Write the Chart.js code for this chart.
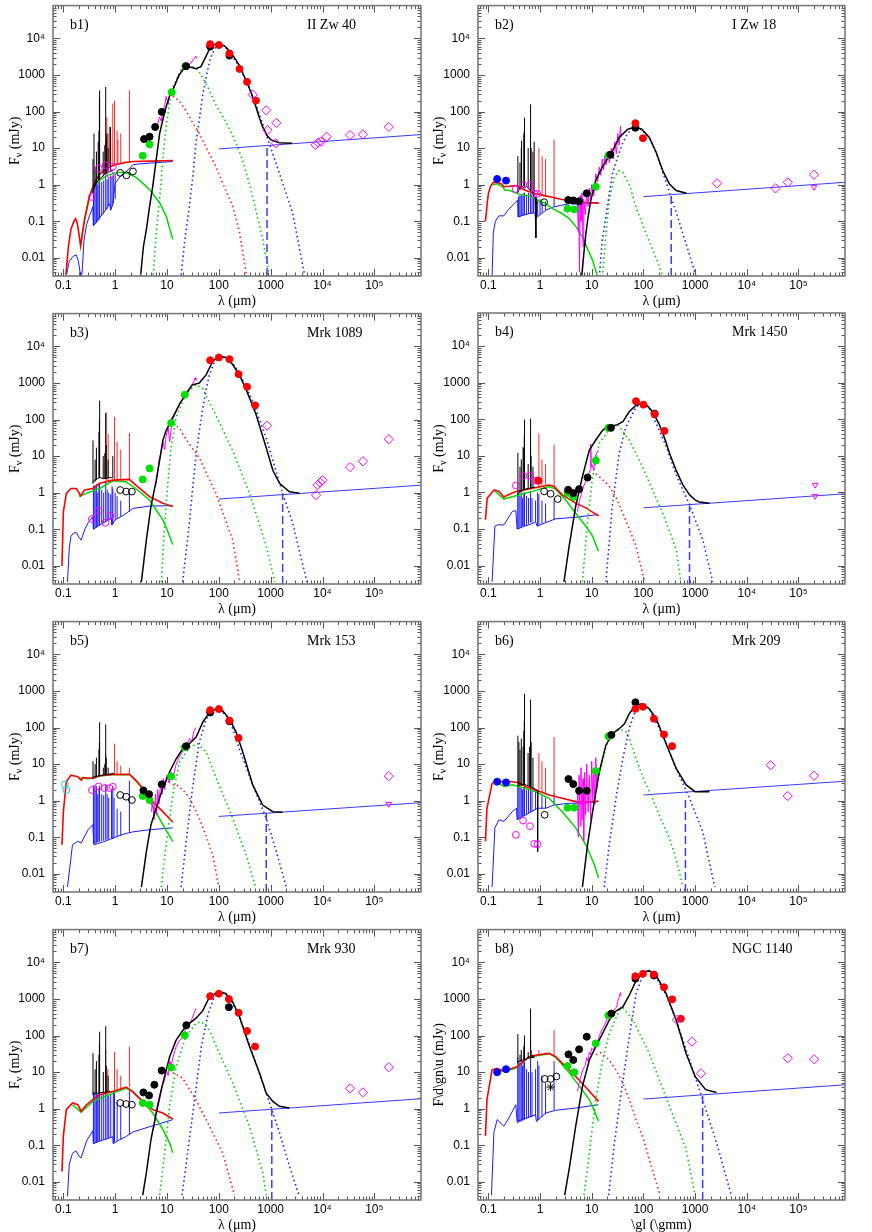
<!DOCTYPE html>
<html><head><meta charset="utf-8">
<script src="https://cdn.jsdelivr.net/npm/chart.js@4.4.1/dist/chart.umd.min.js"></script>
<style>
body{margin:0;background:#fff;width:872px;height:1232px;position:relative;overflow:hidden}
canvas{position:absolute}
</style></head><body>
<canvas id="c1"></canvas><canvas id="c2"></canvas><canvas id="c3"></canvas><canvas id="c4"></canvas>
<canvas id="c5"></canvas><canvas id="c6"></canvas><canvas id="c7"></canvas><canvas id="c8"></canvas>
<script>
// ---------- axis ticks ----------
const xTickValues = [0.1, 1, 10, 100, 1000, 1e4, 1e5];
const xTickLabels = ['0.1', '1', '10', '100', '1000', '10\u2074', '10\u2075'];
const yTickValues = [0.01, 0.1, 1, 10, 100, 1000, 1e4];
const yTickLabels = ['0.01', '0.1', '1', '10', '100', '1000', '10\u2074'];
const panelTags = ['b1)', 'b2)', 'b3)', 'b4)', 'b5)', 'b6)', 'b7)', 'b8)'];
const panelNames = ['II Zw 40', 'I Zw 18', 'Mrk 1089', 'Mrk 1450', 'Mrk 153', 'Mrk 209', 'Mrk 930', 'NGC 1140'];

// ---------- b1 II Zw 40 ----------
const b1_redModel = [[0.112,0.0034],[0.125,0.02],[0.14,0.06],[0.16,0.1],[0.172,0.117],[0.185,0.09],[0.2,0.045],[0.215,0.021],[0.23,0.04],[0.255,0.11],[0.29,0.25],[0.32,0.48],[0.37,0.85],[0.43,1.37],[0.5,1.9],[0.67,2.8],[1,3.5],[1.5,4.0],[2.2,4.3],[5,4.4],[12.9,4.6]];
const b1_redLines = [[0.69,2.9,70],[0.73,3,25],[0.78,3.1,38],[0.82,3.2,20],[0.9,3.3,165],[0.97,3.4,200],[1.09,3.6,30],[1.13,3.6,17],[1.28,3.8,25],[1.88,4.2,380]];
const b1_green = [[0.215,0.021],[0.23,0.04],[0.26,0.12],[0.3,0.35],[0.35,0.7],[0.4,0.95],[0.5,1.3],[0.7,1.8],[1,2.1],[1.3,2.2],[1.8,2.0],[2.5,1.6],[3.4,1.1],[4.6,0.73],[7.2,0.32],[9.6,0.14],[11,0.07],[12.9,0.032]];
const b1_blueCont = [[0.115,0.0034],[0.13,0.008],[0.155,0.011],[0.177,0.012],[0.195,0.008],[0.21,0.004],[0.215,0.002],[0.23,0.004],[0.25,0.03],[0.28,0.08],[0.32,0.14],[0.37,0.25],[0.38,0.075],[0.45,0.1],[0.55,0.15],[0.65,0.2],[0.78,0.3],[0.82,0.2],[0.9,0.3],[1.0,1.1],[1.3,1.8],[1.6,2.2],[2.2,3.5],[3,3.7],[5,3.9],[8,4.1],[13,4.3]];
const b1_blueLines = [[0.38,0.075,0.8],[0.39,0.08,1.0],[0.41,0.085,1.1],[0.434,0.09,1.2],[0.46,0.1,1.0],[0.486,0.11,1.4],[0.5,0.12,1.4],[0.55,0.14,1.2],[0.6,0.16,1.3],[0.656,0.2,1.8],[0.7,0.22,1.4],[0.75,0.26,1.5],[0.82,0.2,1.8],[0.87,0.25,1.6],[0.92,0.3,1.8],[1.0,0.4,2.0]];
const b1_optSpec = [[0.37,0.6],[0.39,0.8],[0.42,1.0],[0.45,1.2],[0.48,1.4],[0.52,1.5],[0.56,1.6],[0.6,1.8],[0.65,2.0],[0.7,2.1],[0.75,2.2],[0.8,2.3],[0.85,2.4],[0.9,2.5]];
const b1_optLines = [[0.373,0.6,5],[0.39,0.8,25],[0.41,0.9,3],[0.434,1.0,8],[0.47,1.3,15],[0.486,1.4,30],[0.496,1.4,250],[0.501,1.4,380],[0.587,1.7,8],[0.63,1.9,12],[0.656,2.0,470],[0.672,2.0,20],[0.69,2.1,25],[0.73,2.2,10],[0.81,2.3,38]];
const b1_irs = [[5.9,30],[6.5,42],[7.2,70],[7.7,55],[8.3,100],[9,140],[9.6,260],[10.5,160],[11.3,300],[12.5,330],[14,500],[15.5,700],[17,900],[18.7,1200],[20,1500],[23,1700],[27,1900],[30,2300],[33,2800],[36,3300],[37,2800]];
const b1_dust = [[3.1,0.0034],[3.5,0.02],[4,0.06],[4.6,0.25],[5.3,0.9],[6.2,5],[7.2,25],[8.3,60],[9.6,134],[11,250],[13,400],[17,1000],[23,1750],[30,1600],[36,1480],[45,1700],[55,3000],[68,5700],[85,7000],[100,7300],[130,6200],[160,4600],[200,3000],[250,1800],[300,1000],[360,570],[450,250],[520,134],[600,70],[700,38],[850,22],[1000,17],[1450,14],[2600,13.5]];
const b1_dotRed = [[12.9,265],[17,200],[23,108],[30,55],[42,25],[60,9],[88,3.1],[130,0.8],[185,0.26],[250,0.05],[340,0.0034]];
const b1_dotGreen = [[5.4,0.0034],[6.2,0.05],[7.2,0.39],[8.3,5],[9.6,38],[11,150],[13,470],[18.7,1400],[27,1800],[35,1600],[42,1200],[60,500],[88,150],[130,60],[185,22],[270,6],[385,1.1],[500,0.25],[700,0.032],[940,0.0034]];
const b1_dotBlue = [[18.7,0.0034],[22,0.03],[27,0.26],[32,2],[36,13.5],[42,60],[48,250],[57,900],[68,2750],[85,5500],[100,6900],[130,6000],[160,4200],[250,1640],[385,470],[600,88],[940,13.5],[1700,1.1],[2650,0.17],[4500,0.0034]];
const b1_radio = [[100,9.5],[8e5,23.5]];
const b1_cut = [850,12.5];
const b1_ptBlack = [[3.6,17.7],[4.6,20.5],[5.9,38],[7.9,98],[23.3,1750],[68,6000],[160,3400]];
const b1_ptRed = [[68,7000],[100,6600],[160,3900],[250,1470],[350,650],[520,200]];
const b1_ptGreen = [[3.4,6.2],[4.6,12.7],[12.3,340],[22.6,1750]];
const b1_ptBlue = [];
const b1_openBlack = [[1.25,2.1],[1.65,1.8],[2.2,2.3]];
const b1_openMag = [[0.355,0.46],[0.48,2.8],[0.65,3.4],[0.8,1.9],[0.9,3.1]];
const b1_openCyan = [];
const b1_diam = [[450,290],[820,108],[1280,49],[870,31],[1250,13.5],[7300,12.2],[8200,14],[9400,15],[1.2e4,20.5],[3.4e4,22.7],[6e4,23.7],[1.9e5,38]];
const b1_limits = [];
const b1_star = [];

// ---------- b2 I Zw 18 ----------
const b2_redModel = [[0.088,0.1],[0.095,0.3],[0.1,0.56],[0.11,0.9],[0.125,1.16],[0.15,1.15],[0.18,1.05],[0.2,0.88],[0.25,0.9],[0.34,0.94],[0.4,0.85],[0.53,0.69],[0.82,0.56],[1.2,0.5],[1.74,0.45],[2.5,0.4],[3.66,0.37],[6.6,0.33],[14,0.31]];
const b2_redLines = [[0.66,0.65,8],[0.95,0.55,10],[1.1,0.5,6],[1.28,0.5,5],[1.87,0.45,17]];
const b2_green = [[0.12,1.0],[0.15,1.05],[0.19,0.85],[0.21,0.7],[0.25,0.7],[0.39,0.55],[0.6,0.5],[0.82,0.4],[1.29,0.3],[1.74,0.22],[2.5,0.17],[3.66,0.12],[5,0.07],[6.6,0.037],[8.5,0.016],[10.4,0.0085],[13,0.003]];
const b2_blueCont = [[0.118,0.003],[0.125,0.05],[0.137,0.1],[0.16,0.14],[0.2,0.14],[0.24,0.2],[0.3,0.28],[0.37,0.38],[0.375,0.13],[0.5,0.15],[0.6,0.16],[0.8,0.17],[0.82,0.12],[1,0.15],[1.3,0.2],[1.74,0.24],[2.5,0.27],[3.66,0.3],[6.6,0.29],[13,0.33]];
const b2_blueLines = [[0.38,0.13,0.45],[0.39,0.13,0.5],[0.41,0.13,0.5],[0.434,0.14,0.55],[0.45,0.14,0.5],[0.486,0.14,0.6],[0.5,0.15,0.6],[0.55,0.15,0.5],[0.6,0.16,0.6],[0.656,0.16,0.7],[0.7,0.16,0.5],[0.75,0.17,0.5],[0.85,0.12,0.45],[0.9,0.14,0.4],[1.0,0.15,0.4],[1.1,0.17,0.35],[1.28,0.2,0.35],[1.87,0.25,0.45]];
const b2_optSpec = [[0.37,0.6],[0.4,0.8],[0.45,0.9],[0.5,0.8],[0.55,0.9],[0.6,0.8],[0.65,0.7],[0.7,0.6],[0.75,0.5],[0.8,0.45],[0.83,0.035],[0.84,0.4],[0.9,0.3]];
const b2_optLines = [[0.373,0.6,6],[0.41,0.7,4],[0.434,0.8,10],[0.44,0.8,16],[0.486,0.9,25],[0.496,0.9,30],[0.501,0.9,68],[0.59,0.8,10],[0.656,0.7,158],[0.672,0.7,10],[0.73,0.6,8],[0.77,0.5,15]];
const b2_irs = [[5.3,0.3],[5.5,0.05],[5.6,0.4],[5.8,0.004],[6.0,0.5],[6.2,0.1],[6.5,0.6],[6.8,0.02],[7.0,0.4],[7.5,0.15],[8,0.6],[8.5,0.25],[9,0.8],[9.5,0.4],[10,1],[11,0.5],[12,2],[13,1.2],[14,3],[15,1.8],[16,5],[17,2.5],[18,6],[19,3.5],[20,8],[22,4],[24,10],[26,5],[28,15],[30,7],[32,25],[34,12],[36,40],[37,20]];
const b2_dust = [[6.4,0.003],[7,0.012],[7.7,0.045],[8.5,0.13],[9.6,0.37],[12,1.3],[16,3],[23.5,6.9],[34,19.5],[50,33],[70,38],[93,33],[130,19.5],[177,7.6],[237,2.4],[320,1.04],[430,0.69],[680,0.58]];
const b2_dotRed = [];
const b2_dotGreen = [[16,0.003],[19,0.05],[22,0.4],[27,1.5],[33,2.4],[40,2.2],[55,0.9],[72,0.24],[100,0.07],[130,0.028],[180,0.009],[240,0.003]];
const b2_dotBlue = [[14,0.003],[16,0.03],[18.8,0.13],[22,0.6],[25,1.9],[31.6,5.6],[40,14],[50,26],[70,37],[93,32],[130,19],[177,7.4],[237,2.2],[320,0.6],[430,0.18],[580,0.045],[780,0.012],[1050,0.003]];
const b2_radio = [[100,0.47],[8e5,1.16]];
const b2_cut = [345,0.56];
const b2_ptBlack = [[3.5,0.38],[4.4,0.37],[5.7,0.35],[8,0.58],[23,6.6],[70,36]];
const b2_ptRed = [[70,48],[98,18.7]];
const b2_ptGreen = [[3.4,0.22],[4.6,0.21],[12,0.88],[21,6.3]];
const b2_ptBlue = [[0.148,1.43],[0.22,1.29]];
const b2_openBlack = [[1.2,0.33]];
const b2_openMag = [[0.337,0.76],[0.47,0.98],[0.64,0.98],[0.77,0.58],[0.89,0.56]];
const b2_openCyan = [];
const b2_diam = [[2650,1.09],[3.6e4,0.79],[6.2e4,1.16],[2e5,1.87]];
const b2_limits = [[2e5,0.85]];
const b2_star = [];

// ---------- b3 Mrk 1089 ----------
const b3_redModel = [[0.094,0.0098],[0.1,0.3],[0.114,0.96],[0.14,1.3],[0.177,1.3],[0.2,1.0],[0.215,0.81],[0.256,1.18],[0.37,1.3],[0.5,1.8],[0.9,2.2],[1.88,2.3],[2.5,1.6],[4.6,0.78],[8.3,0.51],[12.9,0.42]];
const b3_redLines = [[0.67,2,158],[0.73,2,40],[0.97,2.2,120],[1.09,2.2,25],[1.28,2.2,15],[1.88,2.3,43]];
const b3_green = [[0.2,0.8],[0.23,0.85],[0.3,1.0],[0.5,1.3],[0.9,2.1],[1.6,2.0],[2.5,1.3],[4.6,0.63],[8.3,0.18],[10,0.1],[12.9,0.038]];
const b3_blueCont = [[0.12,0.0036],[0.13,0.03],[0.14,0.064],[0.16,0.08],[0.18,0.08],[0.2,0.06],[0.22,0.05],[0.26,0.1],[0.3,0.15],[0.37,0.22],[0.38,0.1],[0.5,0.13],[0.7,0.17],[0.84,0.2],[0.86,0.13],[1,0.18],[1.5,0.25],[2.2,0.37],[4.6,0.43],[12.9,0.44]];
const b3_blueLines = [[0.38,0.1,1.5],[0.39,0.1,1.6],[0.41,0.11,1.5],[0.434,0.11,1.7],[0.46,0.12,1.0],[0.486,0.12,1.8],[0.5,0.13,1.8],[0.55,0.14,1.2],[0.6,0.15,1.0],[0.656,0.16,2],[0.7,0.17,1.2],[0.75,0.18,1.0],[0.82,0.2,0.9],[0.87,0.13,1.5],[0.9,0.14,1.3],[1.0,0.18,1.0],[1.09,0.2,0.8],[1.28,0.22,0.6],[1.88,0.3,1.0]];
const b3_optSpec = [[0.37,1.8],[0.4,2.2],[0.45,2.4],[0.5,2.6],[0.55,2.5],[0.6,2.4],[0.7,2.5],[0.8,2.6],[0.9,2.5]];
const b3_optLines = [[0.373,1.8,27],[0.41,2,8],[0.434,2.2,17],[0.486,2.5,45],[0.496,2.5,100],[0.501,2.5,330],[0.587,2.4,10],[0.63,2.4,12],[0.656,2.4,150],[0.672,2.4,20],[0.73,2.5,8],[0.9,2.5,10]];
const b3_irs = [[6,1.5],[6.5,3],[7,8],[7.7,12],[8.3,25],[9,15],[9.6,35],[10.5,60],[11.3,25],[12.5,90],[14,130],[16,200],[18,300],[20,350],[22,450],[25,550],[28,800],[32,1000],[35,1400],[36,1200]];
const b3_dust = [[3.2,0.0036],[4,0.052],[4.9,0.42],[6.2,2.2],[7.2,7.7],[8.3,27],[9.6,50],[12.9,115],[17.4,265],[23,500],[31,890],[42,1000],[57,1700],[76,3900],[100,5400],[137,5000],[185,3200],[250,1650],[335,670],[520,140],[820,17],[1100,4.1],[1480,1.8],[2300,1.06],[3600,0.96]];
const b3_dotRed = [[13,75],[17,60],[23,30],[30,17],[42,9],[60,3],[88,0.96],[130,0.2],[185,0.05],[250,0.004]];
const b3_dotGreen = [[7.8,0.0036],[8.5,0.04],[9.6,0.42],[11,5],[12,17.7],[15,115],[23,500],[36,900],[49,700],[88,130],[185,14],[390,0.96],[820,0.035],[1200,0.0036]];
const b3_dotBlue = [[20,0.0036],[23,0.02],[27,0.15],[31,1.2],[36,9.5],[42,50],[49,200],[57,700],[66,1700],[80,3500],[100,5400],[160,4600],[250,1900],[450,320],[820,31],[1700,0.96],[2650,0.15],[5000,0.0036]];
const b3_radio = [[100,0.67],[8e5,1.6]];
const b3_cut = [1700,0.96];
const b3_ptBlack = [];
const b3_ptRed = [[68,4200],[100,5000],[160,4500],[240,1750],[350,790],[500,245]];
const b3_ptGreen = [[3.4,2.3],[4.6,4.6],[12,80],[22,480]];
const b3_ptBlue = [];
const b3_openBlack = [[1.25,1.18],[1.63,1.07],[2.1,1.07]];
const b3_openMag = [[0.355,0.19],[0.48,0.32],[0.65,0.15],[0.81,0.23]];
const b3_openCyan = [];
const b3_diam = [[850,68],[7500,0.86],[8000,1.6],[9000,1.9],[1e4,2.2],[3.4e4,5.0],[6e4,7.2],[1.9e5,29]];
const b3_limits = [];
const b3_star = [];

// ---------- b4 Mrk 1450 ----------
const b4_redModel = [[0.088,0.18],[0.095,0.7],[0.13,1.18],[0.16,1.07],[0.2,0.75],[0.29,0.96],[0.36,1.07],[0.71,1.3],[1.5,1.6],[1.87,1.45],[2.7,0.86],[4.9,0.51],[7.7,0.38],[13.5,0.23]];
const b4_redLines = [[0.656,1.2,20],[0.95,1.3,41],[1.09,1.4,8],[1.28,1.5,6],[1.87,1.45,20]];
const b4_green = [[0.13,1.13],[0.2,0.66],[0.34,0.81],[0.71,1.07],[1.5,1.45],[2,1.23],[3.1,0.63],[4.9,0.27],[7.7,0.12],[10.4,0.064],[13.5,0.025]];
const b4_blueCont = [[0.118,0.0036],[0.134,0.12],[0.15,0.13],[0.2,0.13],[0.29,0.3],[0.34,0.32],[0.36,0.1],[0.5,0.12],[0.7,0.14],[0.82,0.16],[0.88,0.12],[1.29,0.15],[2,0.19],[4.9,0.21],[13.5,0.25]];
const b4_blueLines = [[0.37,0.1,0.9],[0.39,0.1,1.0],[0.41,0.11,0.8],[0.434,0.11,1.0],[0.46,0.12,0.7],[0.486,0.12,1.0],[0.5,0.12,1.0],[0.55,0.13,0.8],[0.6,0.14,0.7],[0.656,0.15,1.1],[0.7,0.15,0.7],[0.82,0.16,0.6],[0.9,0.12,1.0],[0.95,0.13,0.9],[1.09,0.14,0.6],[1.28,0.15,0.5],[1.87,0.18,0.7]];
const b4_optSpec = [[0.36,0.85],[0.4,1.0],[0.45,1.1],[0.5,1.2],[0.6,1.3],[0.7,1.35],[0.8,1.4]];
const b4_optLines = [[0.373,0.9,12],[0.41,1,5],[0.434,1.1,8],[0.47,1.15,17],[0.486,1.2,17],[0.496,1.2,35],[0.501,1.2,98],[0.59,1.3,6],[0.656,1.3,103],[0.672,1.3,10],[0.73,1.3,5]];
const b4_irs = [[5.3,0.3],[5.8,0.6],[6.4,1.0],[7,1.5],[7.7,2],[8.5,3],[9.3,4],[9.6,21],[9.8,5],[10,6],[11,4],[11.5,9],[12.5,12],[13.5,14]];
const b4_dust = [[2.9,0.0036],[3.66,0.034],[4.9,0.42],[6.6,2.7],[9,14.4],[12,27],[16.2,50],[21.8,65],[29.4,68],[40,85],[53,160],[72,240],[90,265],[120,230],[150,160],[200,75],[265,27],[320,11.7],[430,4],[580,1.6],[780,0.86],[1000,0.63],[1200,0.55],[1900,0.51]];
const b4_dotRed = [[12,3.2],[15,2.5],[22,1.45],[30,0.7],[40,0.27],[55,0.09],[72,0.034],[105,0.0036]];
const b4_dotGreen = [[6.6,0.0036],[8.3,0.15],[10.4,2.7],[14,22],[22,55],[33,68],[53,27],[96,5],[237,0.27],[430,0.028],[530,0.0036]];
const b4_dotBlue = [[18.8,0.0036],[25,0.42],[34,11.7],[46,62],[72,215],[90,255],[130,195],[265,21],[430,3],[780,0.46],[1400,0.052],[2200,0.0036]];
const b4_radio = [[100,0.38],[8e5,0.92]];
const b4_cut = [780,0.44];
const b4_ptBlack = [[3.5,1.18],[4.4,0.96],[5.7,1.23],[8.3,2.55],[23.5,58],[165,142]];
const b4_ptRed = [[0.93,2.1],[72,310],[100,250],[165,137],[255,48]];
const b4_ptGreen = [[3.4,0.96],[4.4,0.75],[12,7.4],[21,58]];
const b4_ptBlue = [];
const b4_openBlack = [[1.2,1.07],[1.6,0.92],[2.2,0.66]];
const b4_openMag = [[0.34,1.55],[0.47,2.8],[0.64,2.9],[0.77,2.1],[0.89,2.1]];
const b4_openCyan = [];
const b4_diam = [];
const b4_limits = [[2.1e5,1.6],[2.1e5,0.8]];
const b4_star = [];

// ---------- b5 Mrk 153 ----------
const b5_redModel = [[0.094,0.062],[0.1,0.5],[0.114,3.3],[0.14,5],[0.19,4.5],[0.22,3.6],[0.24,4.3],[0.37,4.05],[0.5,4.8],[0.9,5.2],[1.89,5.3],[2.5,3.6],[3.4,2.2],[5.3,0.94],[8.3,0.5],[12.9,0.26]];
const b5_redLines = [[0.656,5,20],[0.97,5.2,36],[1.09,5.2,12],[1.28,5.2,9],[1.88,5.3,8]];
const b5_green = [[0.2,4.2],[0.3,4.0],[0.5,4.7],[0.9,5.1],[1.9,5.2],[2.5,3.5],[3.4,2.1],[5.3,0.69],[8.3,0.22],[10,0.14],[12.9,0.077]];
const b5_blueCont = [[0.12,0.0043],[0.15,0.062],[0.19,0.077],[0.22,0.069],[0.3,0.16],[0.37,0.22],[0.39,0.062],[0.6,0.075],[0.9,0.094],[1.4,0.12],[2.2,0.14],[4.6,0.16],[12.9,0.18]];
const b5_blueLines = [[0.38,0.065,2.5],[0.39,0.065,2.7],[0.41,0.067,2],[0.434,0.07,2.5],[0.46,0.072,1.5],[0.486,0.075,2.2],[0.5,0.076,2.6],[0.55,0.078,1.5],[0.6,0.08,1.4],[0.656,0.082,2.8],[0.7,0.085,1.5],[0.75,0.088,1.2],[0.85,0.09,2.0],[0.9,0.09,2.5],[0.95,0.092,1.2],[1.09,0.1,0.6],[1.28,0.11,0.5],[1.88,0.13,3.5]];
const b5_optSpec = [[0.37,4.2],[0.4,4.5],[0.5,4.8],[0.6,5],[0.7,5.2],[0.8,5.4],[0.95,5.6]];
const b5_optLines = [[0.373,4.2,12],[0.41,4.4,10],[0.434,4.5,15],[0.486,4.8,25],[0.496,4.8,40],[0.501,4.8,140],[0.59,5,8],[0.63,5,10],[0.656,5.1,122],[0.672,5.1,15],[0.73,5.2,8]];
const b5_irs = [[5,0.5],[5.3,1],[5.6,0.3],[6,1.5],[6.3,0.4],[6.6,2],[7,0.8],[7.5,3],[8,1.5],[8.5,4],[9,2],[10,5],[11,3],[12,6],[13,4],[15,10],[17,15],[19,20],[21,25],[24,30],[27,50],[30,40],[33,80],[36,100]];
const b5_dust = [[3.2,0.0043],[4,0.041],[4.9,0.22],[6.2,0.62],[8.3,2.2],[11.2,6.1],[15,14],[20.2,26.5],[27,36],[36.4,55],[49,140],[66,260],[88,320],[118,290],[160,170],[215,75],[290,21],[450,2.7],[700,0.76],[1100,0.5],[1700,0.48]];
const b5_dotRed = [[12.9,2.7],[15,2.8],[20,2],[27,1.2],[42,0.33],[55,0.12],[76,0.033],[100,0.0043]];
const b5_dotGreen = [[7.7,0.0043],[9.6,0.062],[12.9,1.4],[17.4,11.5],[27,29],[39,36],[57,21.5],[100,2.7],[185,0.33],[335,0.033],[510,0.0043]];
const b5_dotBlue = [[18.7,0.0043],[23,0.062],[31,2.2],[42,40],[57,170],[76,310],[100,330],[160,170],[250,25],[450,2.7],[820,0.33],[1280,0.041],[2000,0.0043]];
const b5_radio = [[100,0.37],[8e5,0.88]];
const b5_cut = [820,0.45];
const b5_ptBlack = [[3.5,1.9],[4.5,1.5],[7.9,2.8],[23.4,31],[68,260],[160,150]];
const b5_ptRed = [[68,300],[100,320],[160,155],[240,52]];
const b5_ptGreen = [[3.4,1.34],[4.6,1.04],[12,4.6],[22,29]];
const b5_ptBlue = [];
const b5_openBlack = [[1.25,1.43],[1.63,1.28],[2.1,1.04]];
const b5_openMag = [[0.355,1.95],[0.48,2.45],[0.62,2.2],[0.78,2.2],[0.9,2.4]];
const b5_openCyan = [[0.107,2.8],[0.114,1.95]];
const b5_diam = [[1.9e5,4.7]];
const b5_limits = [[1.9e5,0.8]];
const b5_star = [];

// ---------- b6 Mrk 209 ----------
const b6_redModel = [[0.088,0.077],[0.094,0.62],[0.118,2.96],[0.148,3.6],[0.186,3.3],[0.29,3.3],[0.39,3.1],[0.53,2.4],[0.82,1.95],[1.5,1.43],[2.7,1.16],[4.9,0.94],[7.7,0.9],[13.5,0.98]];
const b6_redLines = [[0.656,2.3,50],[0.95,1.9,20],[1.09,1.7,12],[1.28,1.5,8],[1.87,1.3,55]];
const b6_green = [[0.148,3.3],[0.2,2.4],[0.29,2.7],[0.5,2.2],[0.82,1.75],[1.5,1.16],[2.7,0.5],[4.9,0.18],[7.7,0.062],[11.2,0.018],[13.5,0.0078]];
const b6_blueCont = [[0.118,0.0043],[0.134,0.18],[0.16,0.3],[0.2,0.27],[0.29,0.5],[0.35,0.62],[0.36,0.3],[0.6,0.45],[0.89,0.62],[1.29,0.62],[1.87,0.76],[3.66,0.85],[6.6,0.85],[13.5,0.94]];
const b6_blueLines = [[0.37,0.3,2.5],[0.39,0.32,2.4],[0.41,0.33,2.3],[0.434,0.35,2.4],[0.46,0.37,2],[0.486,0.38,2.4],[0.5,0.4,2.5],[0.55,0.42,2],[0.6,0.45,2],[0.656,0.48,2.5],[0.7,0.5,1.8],[0.82,0.55,2],[0.9,0.6,1.8],[1.09,0.62,1.5],[1.28,0.62,1.2],[1.87,0.76,1.6]];
const b6_optSpec = [[0.36,2.5],[0.4,2.6],[0.45,2.7],[0.5,2.8],[0.6,2.5],[0.7,2.3],[0.8,2.1],[0.9,1.9]];
const b6_optLines = [[0.373,2.5,60],[0.39,2.6,40],[0.41,2.6,25],[0.434,2.7,50],[0.47,2.7,30],[0.486,2.7,80],[0.496,2.7,150],[0.501,2.7,830],[0.587,2.5,20],[0.63,2.4,30],[0.656,2.3,580],[0.672,2.3,40],[0.73,2.2,15],[0.9,1.9,0.04]];
const b6_irs = [[5.3,2],[5.5,0.1],[5.7,5],[6,0.2],[6.2,8],[6.5,0.3],[6.8,4],[7,0.08],[7.3,6],[7.6,0.4],[8,10],[8.5,0.5],[9,5],[9.5,0.3],[10,12],[10.5,1],[11,6],[11.5,0.8],[12,15],[12.5,2],[13,7]];
const b6_dust = [[6.6,0.0043],[8.3,0.062],[10.4,0.5],[14,6.1],[18.8,33],[25,68],[34,93],[43,127],[53,237],[70,400],[93,445],[130,325],[177,175],[275,36],[430,7.6],[670,2.7],[1000,1.76],[1900,1.76]];
const b6_dotRed = [];
const b6_dotGreen = [[14,5],[18.8,30],[25,65],[34,90],[45,80],[55,45],[72,14],[100,4],[150,1.16],[220,0.3],[320,0.094],[450,0.02],[580,0.0043]];
const b6_dotBlue = [[17.5,0.0043],[21.8,0.062],[29.4,1.16],[40,14],[53,93],[72,325],[93,420],[130,325],[237,61],[430,7.6],[780,1.16],[1400,0.144],[2400,0.0043]];
const b6_radio = [[100,1.43],[8e5,3.4]];
const b6_cut = [650,1.37];
const b6_ptBlack = [[3.55,3.9],[4.4,2.84],[5.7,1.87],[8,1.87],[24,63],[70,490]];
const b6_ptRed = [[70,325],[98,370],[160,175],[250,65],[360,31]];
const b6_ptGreen = [[3.4,0.64],[4.6,0.64],[12,6.5],[21,58]];
const b6_ptBlue = [[0.148,3.3],[0.22,3.15]];
const b6_openBlack = [[1.23,0.41]];
const b6_openMag = [[0.34,0.116],[0.47,0.285],[0.64,0.2],[0.77,0.066],[0.89,0.064]];
const b6_openCyan = [];
const b6_diam = [[2.9e4,9.3],[6.2e4,1.34],[2e5,4.8]];
const b6_limits = [];
const b6_star = [];

// ---------- b7 Mrk 930 ----------
const b7_redModel = [[0.094,0.019],[0.1,0.18],[0.114,0.94],[0.15,1.43],[0.19,1.28],[0.22,0.85],[0.28,1.28],[0.37,1.76],[0.5,2.4],[0.9,2.96],[1.63,3.9],[2.2,2.84],[3.4,1.58],[5.3,0.94],[8.3,0.76],[12.9,0.52]];
const b7_redLines = [[0.656,2.6,40],[0.72,2.8,12],[0.97,3,36],[1.09,3.1,12],[1.28,3.3,8],[1.88,3.9,50]];
const b7_green = [[0.15,1.28],[0.22,0.8],[0.37,1.58],[0.9,2.66],[1.63,3.6],[2.2,2.96],[3.4,1.58],[5.3,0.76],[8.3,0.27],[11.2,0.116],[12.9,0.062]];
const b7_blueCont = [[0.12,0.004],[0.13,0.03],[0.15,0.06],[0.175,0.07],[0.2,0.05],[0.22,0.045],[0.28,0.13],[0.37,0.25],[0.38,0.11],[0.5,0.13],[0.7,0.15],[0.9,0.17],[0.92,0.11],[1.2,0.14],[1.6,0.17],[2.2,0.23],[4.6,0.32],[12.9,0.5]];
const b7_blueLines = [[0.38,0.11,2.8],[0.39,0.11,2.9],[0.41,0.115,2.7],[0.434,0.12,2.8],[0.46,0.12,2.5],[0.486,0.125,2.9],[0.5,0.13,2.9],[0.55,0.135,2.5],[0.6,0.14,2.7],[0.656,0.145,3],[0.7,0.15,2.6],[0.75,0.155,2.3],[0.82,0.16,2.5],[0.92,0.11,3.0],[0.97,0.12,2.8],[1.09,0.13,1.5],[1.28,0.14,1.2],[1.88,0.2,3.2]];
const b7_optSpec = [[0.37,2.4],[0.4,2.6],[0.5,2.7],[0.6,2.8],[0.7,2.9],[0.8,3.0]];
const b7_optLines = [[0.373,2.4,33],[0.41,2.5,12],[0.434,2.6,20],[0.486,2.7,30],[0.496,2.7,60],[0.501,2.7,127],[0.59,2.8,10],[0.656,2.8,180],[0.672,2.8,15],[0.73,2.9,8]];
const b7_irs = [[5.6,0.3],[6,0.6],[6.5,1.2],[7,2],[7.5,3],[8,4],[8.5,5],[9,6],[9.6,12],[10.5,8],[11.3,20],[12,15],[13,25],[15,50],[17,70],[20,90],[23,150],[27,200],[30,280],[33,400],[36,550]];
const b7_dust = [[3.4,0.0043],[4,0.018],[4.9,0.143],[6.2,0.76],[8.3,5],[11.2,26],[15,75],[20.2,140],[27,215],[36.4,300],[49,480],[66,1140],[100,1620],[137,1400],[185,830],[250,325],[390,50],[610,9.3],[820,2.66],[1100,1.58],[1480,1.16],[2300,1.04]];
const b7_dotRed = [[12.9,9.7],[20,6.8],[36,1.76],[66,0.33],[118,0.062],[200,0.0043]];
const b7_dotGreen = [[7.2,0.0043],[9,0.062],[11.2,1.16],[15,14],[23,93],[36,215],[46,240],[66,140],[103,32],[185,5],[390,0.33],[700,0.018],[820,0.0043]];
const b7_dotBlue = [[19.5,0.0043],[25,0.062],[34,1.76],[46,50],[62,400],[82,1140],[103,1600],[160,1140],[250,325],[450,32],[820,2.66],[1480,0.22],[2300,0.027],[3500,0.0043]];
const b7_radio = [[100,0.76],[8e5,1.87]];
const b7_cut = [1050,1.0];
const b7_ptBlack = [[3.5,2.78],[4.5,2.3],[5.7,4.5],[7.9,11],[23.6,192],[156,600]];
const b7_ptRed = [[68,1200],[100,1400],[156,1000],[240,420],[350,133],[500,50]];
const b7_ptGreen = [[3.4,1.43],[4.6,1.28],[12,13.3],[22,102]];
const b7_ptBlue = [];
const b7_openBlack = [[1.25,1.43],[1.63,1.34],[2.1,1.28]];
const b7_openMag = [];
const b7_openCyan = [];
const b7_diam = [[3.4e4,3.6],[6e4,2.8],[1.9e5,13.6]];
const b7_limits = [];
const b7_star = [];

// ---------- b8 NGC 1140 ----------
const b8_redModel = [[0.088,0.18],[0.094,1.76],[0.118,11.5],[0.148,12.7],[0.186,11],[0.29,12.7],[0.36,14],[0.61,26.5],[0.82,29],[1.5,32.5],[2,26.5],[2.7,17.5],[3.66,11.5],[5.7,6.1],[9,3],[13.5,1.58]];
const b8_redLines = [[0.656,26,60],[0.95,30,40],[1.28,32,35],[1.87,28,140]];
const b8_green = [[0.148,11.5],[0.2,10.5],[0.29,12],[0.36,13.5],[0.61,26],[1.5,32],[2,25.5],[3.66,9.7],[5.7,4.2],[9,1.76],[11,0.94],[13.5,0.45]];
const b8_blueCont = [[0.115,0.0043],[0.128,0.22],[0.148,0.5],[0.2,0.33],[0.25,0.56],[0.34,1.28],[0.36,0.45],[0.82,0.68],[0.85,0.45],[1.29,0.76],[2,0.9],[4.9,1.04],[13.5,1.28]];
const b8_blueLines = [[0.37,0.4,25],[0.39,0.42,20],[0.41,0.43,18],[0.434,0.45,22],[0.46,0.47,15],[0.486,0.48,25],[0.5,0.5,22],[0.55,0.52,12],[0.6,0.55,10],[0.656,0.58,25],[0.7,0.6,10],[0.82,0.65,12],[0.9,0.45,20],[0.95,0.5,15],[1.09,0.6,8],[1.28,0.7,5],[1.87,0.9,20]];
const b8_optSpec = [[0.36,18],[0.4,20],[0.5,22],[0.6,24],[0.7,25],[0.8,26]];
const b8_optLines = [[0.373,18,110],[0.41,19,30],[0.434,20,40],[0.486,22,50],[0.496,22,60],[0.501,22,100],[0.59,24,35],[0.656,25,550],[0.672,25,40],[0.73,25,30]];
const b8_irs = [[5.3,3],[5.7,5],[6.2,8],[6.8,12],[7.5,15],[8,25],[8.5,20],[9,35],[9.5,30],[10,45],[11,40],[12,70],[13,60],[14,100],[16,150],[18,200],[20,300],[23,400],[27,500],[30,600],[33,1000],[36,1500],[37,1200]];
const b8_dust = [[3,0.0043],[3.66,0.022],[4.9,0.33],[6.6,4],[9,21.5],[12,50],[16.2,114],[21.8,265],[29.4,470],[40,610],[53,1250],[72,3200],[100,5400],[130,6000],[177,4400],[275,1400],[430,265],[670,32.5],[1000,7.6],[1600,3.3],[2600,2.78]];
const b8_dotRed = [[12,30],[15,34],[21.8,21.5],[30,11],[40,5],[55,1.6],[72,0.5],[100,0.15],[130,0.041],[210,0.0043]];
const b8_dotGreen = [[7.1,0.0043],[9,0.062],[12,1.76],[16.2,21.5],[21.8,114],[34,490],[40,580],[63,265],[130,32.5],[320,1.16],[670,0.077],[1000,0.0043]];
const b8_dotBlue = [[21.3,0.0043],[27,0.094],[37,2.66],[50,50],[72,1400],[100,4900],[130,5800],[177,3900],[275,1300],[430,265],[780,21.5],[1400,1.76],[2600,0.116],[5000,0.0043]];
const b8_radio = [[100,1.83],[8e5,4.5]];
const b8_cut = [1400,2.66];
const b8_ptBlack = [[3.55,30.6],[4.4,21.5],[5.7,42],[8,93],[24,400],[70,3600],[160,4400]];
const b8_ptRed = [[70,4200],[98,4900],[160,4700],[250,2100],[360,980],[530,290]];
const b8_ptGreen = [[3.4,14.7],[4.6,9.9],[12,61],[21,360]];
const b8_ptBlue = [[0.148,9.9],[0.22,12]];
const b8_openBlack = [[1.23,6.5],[1.6,6.5],[2.07,7.6]];
const b8_openMag = [];
const b8_openCyan = [];
const b8_diam = [[445,270],[870,68],[1300,9.3],[6.2e4,24],[2e5,22.5]];
const b8_limits = [];
const b8_star = [[1.6,3.9]];

// ---------- build ----------
const panelData = [
 {redModel:b1_redModel,redLines:b1_redLines,green:b1_green,blueCont:b1_blueCont,blueLines:b1_blueLines,optSpec:b1_optSpec,optLines:b1_optLines,irs:b1_irs,dust:b1_dust,dotRed:b1_dotRed,dotGreen:b1_dotGreen,dotBlue:b1_dotBlue,radio:b1_radio,cut:b1_cut,ptBlack:b1_ptBlack,ptRed:b1_ptRed,ptGreen:b1_ptGreen,ptBlue:b1_ptBlue,openBlack:b1_openBlack,openMag:b1_openMag,openCyan:b1_openCyan,diam:b1_diam,limits:b1_limits,star:b1_star},
 {redModel:b2_redModel,redLines:b2_redLines,green:b2_green,blueCont:b2_blueCont,blueLines:b2_blueLines,optSpec:b2_optSpec,optLines:b2_optLines,irs:b2_irs,dust:b2_dust,dotRed:b2_dotRed,dotGreen:b2_dotGreen,dotBlue:b2_dotBlue,radio:b2_radio,cut:b2_cut,ptBlack:b2_ptBlack,ptRed:b2_ptRed,ptGreen:b2_ptGreen,ptBlue:b2_ptBlue,openBlack:b2_openBlack,openMag:b2_openMag,openCyan:b2_openCyan,diam:b2_diam,limits:b2_limits,star:b2_star},
 {redModel:b3_redModel,redLines:b3_redLines,green:b3_green,blueCont:b3_blueCont,blueLines:b3_blueLines,optSpec:b3_optSpec,optLines:b3_optLines,irs:b3_irs,dust:b3_dust,dotRed:b3_dotRed,dotGreen:b3_dotGreen,dotBlue:b3_dotBlue,radio:b3_radio,cut:b3_cut,ptBlack:b3_ptBlack,ptRed:b3_ptRed,ptGreen:b3_ptGreen,ptBlue:b3_ptBlue,openBlack:b3_openBlack,openMag:b3_openMag,openCyan:b3_openCyan,diam:b3_diam,limits:b3_limits,star:b3_star},
 {redModel:b4_redModel,redLines:b4_redLines,green:b4_green,blueCont:b4_blueCont,blueLines:b4_blueLines,optSpec:b4_optSpec,optLines:b4_optLines,irs:b4_irs,dust:b4_dust,dotRed:b4_dotRed,dotGreen:b4_dotGreen,dotBlue:b4_dotBlue,radio:b4_radio,cut:b4_cut,ptBlack:b4_ptBlack,ptRed:b4_ptRed,ptGreen:b4_ptGreen,ptBlue:b4_ptBlue,openBlack:b4_openBlack,openMag:b4_openMag,openCyan:b4_openCyan,diam:b4_diam,limits:b4_limits,star:b4_star},
 {redModel:b5_redModel,redLines:b5_redLines,green:b5_green,blueCont:b5_blueCont,blueLines:b5_blueLines,optSpec:b5_optSpec,optLines:b5_optLines,irs:b5_irs,dust:b5_dust,dotRed:b5_dotRed,dotGreen:b5_dotGreen,dotBlue:b5_dotBlue,radio:b5_radio,cut:b5_cut,ptBlack:b5_ptBlack,ptRed:b5_ptRed,ptGreen:b5_ptGreen,ptBlue:b5_ptBlue,openBlack:b5_openBlack,openMag:b5_openMag,openCyan:b5_openCyan,diam:b5_diam,limits:b5_limits,star:b5_star},
 {redModel:b6_redModel,redLines:b6_redLines,green:b6_green,blueCont:b6_blueCont,blueLines:b6_blueLines,optSpec:b6_optSpec,optLines:b6_optLines,irs:b6_irs,dust:b6_dust,dotRed:b6_dotRed,dotGreen:b6_dotGreen,dotBlue:b6_dotBlue,radio:b6_radio,cut:b6_cut,ptBlack:b6_ptBlack,ptRed:b6_ptRed,ptGreen:b6_ptGreen,ptBlue:b6_ptBlue,openBlack:b6_openBlack,openMag:b6_openMag,openCyan:b6_openCyan,diam:b6_diam,limits:b6_limits,star:b6_star},
 {redModel:b7_redModel,redLines:b7_redLines,green:b7_green,blueCont:b7_blueCont,blueLines:b7_blueLines,optSpec:b7_optSpec,optLines:b7_optLines,irs:b7_irs,dust:b7_dust,dotRed:b7_dotRed,dotGreen:b7_dotGreen,dotBlue:b7_dotBlue,radio:b7_radio,cut:b7_cut,ptBlack:b7_ptBlack,ptRed:b7_ptRed,ptGreen:b7_ptGreen,ptBlue:b7_ptBlue,openBlack:b7_openBlack,openMag:b7_openMag,openCyan:b7_openCyan,diam:b7_diam,limits:b7_limits,star:b7_star},
 {redModel:b8_redModel,redLines:b8_redLines,green:b8_green,blueCont:b8_blueCont,blueLines:b8_blueLines,optSpec:b8_optSpec,optLines:b8_optLines,irs:b8_irs,dust:b8_dust,dotRed:b8_dotRed,dotGreen:b8_dotGreen,dotBlue:b8_dotBlue,radio:b8_radio,cut:b8_cut,ptBlack:b8_ptBlack,ptRed:b8_ptRed,ptGreen:b8_ptGreen,ptBlue:b8_ptBlue,openBlack:b8_openBlack,openMag:b8_openMag,openCyan:b8_openCyan,diam:b8_diam,limits:b8_limits,star:b8_star}
];

const X_MIN = Math.pow(10,-1.2), X_MAX = Math.pow(10,5.9);
const Y_MIN = Math.pow(10,-2.5), Y_MAX = Math.pow(10,4.9);
const SANS = '"Liberation Sans", "DejaVu Sans", sans-serif';
const SERIF = '"Liberation Serif", "DejaVu Serif", serif';

const pts = a => a.map(([x,y]) => ({x, y}));
const segs = a => { const o = []; a.forEach(([x,p,q]) => { o.push({x,y:p},{x,y:q},{x,y:null}); }); return o; };
function line(data, color, width, extra) {
  return Object.assign({data, borderColor: color, backgroundColor: color, borderWidth: width, pointRadius: 0, fill: false, tension: 0, spanGaps: false}, extra || {});
}
function marks(data, style, radius, fillColor, edgeColor, extra) {
  return Object.assign({data: pts(data), showLine: false, pointStyle: style, pointRadius: radius, backgroundColor: fillColor, borderColor: edgeColor, pointBorderWidth: 1}, extra || {});
}

function tickList(min, max) {
  const out = [];
  for (let k = Math.floor(Math.log10(min)); k <= Math.ceil(Math.log10(max)); k++) {
    for (let m = 1; m <= 9; m++) {
      const v = m * Math.pow(10, k);
      if (v >= min && v <= max) out.push({v, major: m === 1});
    }
  }
  return out;
}

const framePlugin = {
  id: 'frame',
  afterDraw(chart, args, opts) {
    const {ctx, chartArea: a, scales: {x, y}} = chart;
    ctx.save();
    ctx.strokeStyle = '#555'; ctx.lineWidth = 1;
    ctx.beginPath();
    tickList(X_MIN, X_MAX).forEach(t => {
      const px = Math.round(x.getPixelForValue(t.v)) + 0.5, L = t.major ? 7 : 3.5;
      ctx.moveTo(px, a.bottom); ctx.lineTo(px, a.bottom - L);
      ctx.moveTo(px, a.top); ctx.lineTo(px, a.top + L);
    });
    tickList(Y_MIN, Y_MAX).forEach(t => {
      const py = Math.round(y.getPixelForValue(t.v)) + 0.5, L = t.major ? 7 : 3.5;
      ctx.moveTo(a.left, py); ctx.lineTo(a.left + L, py);
      ctx.moveTo(a.right, py); ctx.lineTo(a.right - L, py);
    });
    ctx.stroke();
    ctx.strokeStyle = '#7a7a7a'; ctx.lineWidth = 1.6;
    ctx.strokeRect(a.left, a.top, a.right - a.left, a.bottom - a.top);
    ctx.fillStyle = '#000';
    ctx.font = '14px ' + SERIF; ctx.textBaseline = 'alphabetic'; ctx.textAlign = 'left';
    ctx.fillText(opts.tag, a.left + 17, a.top + 23);
    ctx.fillText(opts.name, a.left + 254, a.top + 23);
    // y-axis title
    ctx.translate(opts.titleX, (a.top + a.bottom) / 2);
    ctx.rotate(-Math.PI / 2);
    ctx.textBaseline = 'middle';
    if (opts.plainTitle) {
      ctx.textAlign = 'center'; ctx.font = '14px ' + SERIF;
      ctx.fillText(opts.plainTitle, 0, 0);
    } else {
      const f1 = '14px ' + SERIF, f2 = '10px ' + SERIF;
      ctx.font = f1; const w1 = ctx.measureText('F').width, w3 = ctx.measureText(' (mJy)').width;
      ctx.font = f2; const w2 = ctx.measureText('\u03BD').width;
      let sx = -(w1 + w2 + w3) / 2;
      ctx.textAlign = 'left';
      ctx.font = f1; ctx.fillText('F', sx, 0); sx += w1;
      ctx.font = f2; ctx.fillText('\u03BD', sx, 4); sx += w2;
      ctx.font = f1; ctx.fillText(' (mJy)', sx, 0);
    }
    ctx.restore();
  }
};

const DOT = [1.5, 3];
const MAG = '#ff00ff';

for (let i = 0; i < 8; i++) {
  const d = panelData[i];
  const col = i % 2, row = Math.floor(i / 2);
  const cv = document.getElementById('c' + (i + 1));
  const W = col === 0 ? 436 : 448, H = 308;
  cv.width = W; cv.height = H;
  cv.style.left = (col === 0 ? 0 : 424) + 'px';
  cv.style.top = (row * 308) + 'px';
  cv.style.width = W + 'px'; cv.style.height = H + 'px';
  const yW = col === 0 ? 53 : 54;
  const rightPad = col === 0 ? 15 : 27;
  const isB8 = i === 7;

  const layers = [
    line(segs(d.blueLines), '#1a1aff', 1),
    line(pts(d.blueCont), '#1a1aff', 1),
    line(pts(d.green), '#00d800', 1.5),
    line(segs(d.redLines), '#ff2a2a', 1),
    line(pts(d.redModel), '#ff0000', 1.6),
    line(segs(d.optLines), '#000000', 1),
    line(pts(d.optSpec), '#000000', 1),
    line(pts(d.dotRed), '#ff2020', 1.6, {borderDash: DOT}),
    line(pts(d.dotGreen), '#00d000', 1.6, {borderDash: DOT}),
    line(pts(d.dotBlue), '#2020ff', 1.6, {borderDash: DOT}),
    line(pts(d.radio), '#3a3aff', 1),
    line([{x: d.cut[0], y: Y_MIN}, {x: d.cut[0], y: d.cut[1]}], '#3a3aff', 1.5, {borderDash: [8, 4]}),
    line(pts(d.irs), MAG, 1),
    line(pts(d.dust), '#000000', 1.5),
    marks(d.openMag, 'circle', 3.4, 'rgba(0,0,0,0)', MAG),
    marks(d.openCyan, 'circle', 3.4, 'rgba(0,0,0,0)', '#00d8d8'),
    marks(d.openBlack, 'circle', 3.4, 'rgba(0,0,0,0)', '#000'),
    marks(d.star, 'star', 4, '#000', '#000'),
    marks(d.ptGreen, 'circle', 3.5, '#00e000', '#00e000'),
    marks(d.ptBlue, 'circle', 3.5, '#0000ff', '#0000ff'),
    marks(d.ptBlack, 'circle', 3.5, '#000', '#000'),
    marks(d.ptRed, 'circle', 3.5, '#ff0000', '#ff0000'),
    marks(d.diam, 'rectRot', 4.6, 'rgba(0,0,0,0)', MAG),
    marks(d.limits, 'triangle', 3.2, 'rgba(0,0,0,0)', MAG, {rotation: 180})
  ];
  const N = layers.length;
  layers.forEach((ds, k) => { ds.order = N - k; });

  new Chart(cv, {
    type: 'line',
    data: {datasets: layers},
    plugins: [framePlugin],
    options: {
      responsive: false, animation: false, devicePixelRatio: 1, events: [],
      layout: {padding: {top: 4, right: rightPad, bottom: 0, left: 0}},
      plugins: {
        legend: {display: false}, tooltip: {enabled: false},
        frame: {tag: panelTags[i], name: panelNames[i], titleX: 15,
                plainTitle: isB8 ? 'F\\d\\gn\\u (mJy)' : null}
      },
      scales: {
        x: {
          type: 'logarithmic', position: 'bottom', min: X_MIN, max: X_MAX,
          afterBuildTicks: s => { s.ticks = xTickValues.map(v => ({value: v})); },
          afterFit: s => { s.height = 32; s.paddingLeft = 0; s.paddingRight = 0; },
          grid: {display: false, drawTicks: false}, border: {display: false},
          ticks: {autoSkip: false, maxRotation: 0, minRotation: 0, padding: 2, color: '#000',
                  font: {family: SANS, size: 12}, callback: (v, k) => xTickLabels[k]},
          title: {display: true, text: isB8 ? '\\gl (\\gmm)' : '\u03BB (\u03BCm)', color: '#000',
                  font: {family: SERIF, size: 14, lineHeight: 1}, padding: {top: 0, bottom: 0}}
        },
        y: {
          type: 'logarithmic', position: 'left', min: Y_MIN, max: Y_MAX,
          afterBuildTicks: s => { s.ticks = yTickValues.map(v => ({value: v})); },
          afterFit: s => { s.width = yW; s.paddingTop = 0; s.paddingBottom = 0; },
          grid: {display: false, drawTicks: false}, border: {display: false},
          ticks: {autoSkip: false, padding: 8, color: '#000',
                  font: {family: SANS, size: 12}, callback: (v, k) => yTickLabels[k]},
          title: {display: false}
        }
      }
    }
  });
}
</script>
